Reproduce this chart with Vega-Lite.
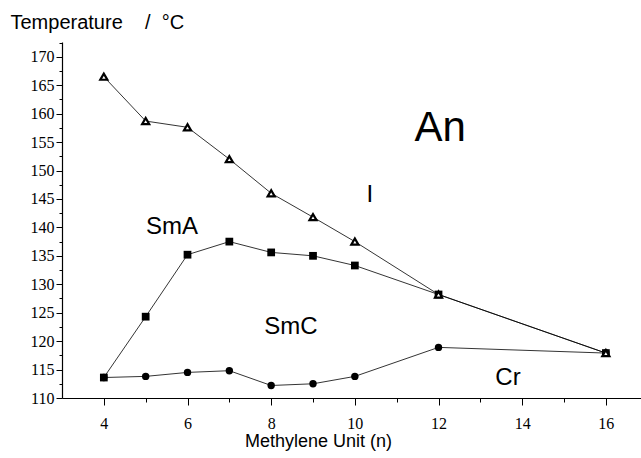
{
  "$schema": "https://vega.github.io/schema/vega-lite/v6.json",
  "width": 579,
  "height": 356,
  "autosize": "none",
  "padding": {"left": 62, "top": 42, "right": 0, "bottom": 60},
  "background": "white",
  "config": {"view": {"stroke": null}, "font": "Liberation Sans"},
  "datasets": {
    "pts": [
      {"n": 4, "T": 166.5, "s": "I"},
      {"n": 5, "T": 158.7, "s": "I"},
      {"n": 6, "T": 157.6, "s": "I"},
      {"n": 7, "T": 152.0, "s": "I"},
      {"n": 8, "T": 146.0, "s": "I"},
      {"n": 9, "T": 141.8, "s": "I"},
      {"n": 10, "T": 137.5, "s": "I"},
      {"n": 12, "T": 128.2, "s": "I"},
      {"n": 16, "T": 117.9, "s": "I"},
      {"n": 4, "T": 113.6, "s": "SmA"},
      {"n": 5, "T": 124.3, "s": "SmA"},
      {"n": 6, "T": 135.2, "s": "SmA"},
      {"n": 7, "T": 137.5, "s": "SmA"},
      {"n": 8, "T": 135.6, "s": "SmA"},
      {"n": 9, "T": 135.0, "s": "SmA"},
      {"n": 10, "T": 133.3, "s": "SmA"},
      {"n": 12, "T": 128.2, "s": "SmA"},
      {"n": 16, "T": 117.9, "s": "SmA"},
      {"n": 4, "T": 113.6, "s": "Cr"},
      {"n": 5, "T": 113.8, "s": "Cr"},
      {"n": 6, "T": 114.5, "s": "Cr"},
      {"n": 7, "T": 114.8, "s": "Cr"},
      {"n": 8, "T": 112.2, "s": "Cr"},
      {"n": 9, "T": 112.5, "s": "Cr"},
      {"n": 10, "T": 113.8, "s": "Cr"},
      {"n": 12, "T": 118.9, "s": "Cr"},
      {"n": 16, "T": 117.9, "s": "Cr"}
    ],
    "labels": [
      {"n": 12.04, "T": 157.5, "label": "An"},
      {"n": 10.36, "T": 145.7, "label": "I"},
      {"n": 5.63, "T": 140.1, "label": "SmA"},
      {"n": 8.47, "T": 122.5, "label": "SmC"},
      {"n": 13.66, "T": 113.5, "label": "Cr"}
    ]
  },
  "resolve": {"axis": {"x": "independent", "y": "independent"}},
  "layer": [
    {
      "data": {"name": "pts"},
      "mark": {"type": "line", "color": "black", "strokeWidth": 0.8},
      "encoding": {
        "x": {
          "field": "n", "type": "quantitative",
          "scale": {"domain": [3, 16.84], "nice": false, "zero": false},
          "axis": {
            "orient": "bottom",
            "values": [4, 6, 8, 10, 12, 14, 16],
            "grid": false,
            "domainColor": "black", "domainWidth": 1.2,
            "tickColor": "black", "tickSize": 7,
            "labelColor": "black", "labelFont": "Liberation Sans Narrow", "labelFontSize": 16,
            "labelPadding": 10,
            "title": "Methylene Unit (n)",
            "titleFont": "Liberation Sans", "titleFontSize": 18, "titleFontWeight": "normal",
            "titleColor": "black",
            "titleX": 256, "titleY": 48, "titleBaseline": "alphabetic"
          }
        },
        "y": {
          "field": "T", "type": "quantitative",
          "scale": {"domain": [110, 172.6], "nice": false, "zero": false},
          "axis": {
            "orient": "left",
            "values": [110, 115, 120, 125, 130, 135, 140, 145, 150, 155, 160, 165, 170],
            "grid": false,
            "domainColor": "black", "domainWidth": 1.2,
            "tickColor": "black", "tickSize": 6,
            "labelColor": "black", "labelFont": "Liberation Sans Narrow", "labelFontSize": 16,
            "labelPadding": 2,
            "title": "Temperature\u00a0\u00a0\u00a0\u00a0/\u00a0\u00a0°C",
            "titleFont": "Liberation Sans", "titleFontSize": 20, "titleFontWeight": "normal",
            "titleColor": "black",
            "titleAngle": 0, "titleAlign": "left", "titleBaseline": "alphabetic",
            "titleX": -52, "titleY": -14
          }
        },
        "detail": {"field": "s"}
      }
    },
    {
      "data": {"name": "pts"},
      "mark": {"type": "point", "opacity": 0},
      "encoding": {
        "x": {
          "field": "n", "type": "quantitative",
          "axis": {
            "orient": "bottom",
            "values": [5, 7, 9, 11, 13, 15],
            "grid": false, "domain": false, "labels": false, "title": null,
            "tickColor": "black", "tickSize": 4
          }
        },
        "y": {
          "field": "T", "type": "quantitative",
          "axis": {
            "orient": "left",
            "values": [112.5, 117.5, 122.5, 127.5, 132.5, 137.5, 142.5, 147.5, 152.5, 157.5, 162.5, 167.5, 172.5],
            "grid": false, "domain": false, "labels": false, "title": null,
            "tickColor": "black", "tickSize": 3
          }
        }
      }
    },
    {
      "data": {"name": "pts"},
      "transform": [{"filter": "datum.s === 'Cr'"}],
      "mark": {"type": "point", "shape": "circle", "filled": true, "color": "black", "size": 55, "opacity": 1},
      "encoding": {
        "x": {"field": "n", "type": "quantitative", "axis": null},
        "y": {"field": "T", "type": "quantitative", "axis": null}
      }
    },
    {
      "data": {"name": "pts"},
      "transform": [{"filter": "datum.s === 'SmA'"}],
      "mark": {"type": "point", "shape": "square", "filled": true, "color": "black", "size": 60, "opacity": 1},
      "encoding": {
        "x": {"field": "n", "type": "quantitative", "axis": null},
        "y": {"field": "T", "type": "quantitative", "axis": null}
      }
    },
    {
      "data": {"name": "pts"},
      "transform": [{"filter": "datum.s === 'I'"}],
      "mark": {"type": "point", "shape": "triangle-up", "filled": false, "fill": "white", "stroke": "black", "strokeWidth": 2.2, "size": 50, "opacity": 1},
      "encoding": {
        "x": {"field": "n", "type": "quantitative", "axis": null},
        "y": {"field": "T", "type": "quantitative", "axis": null}
      }
    },
    {
      "data": {"name": "labels"},
      "transform": [{"filter": "datum.label === 'An'"}],
      "mark": {"type": "text", "font": "Liberation Sans", "fontSize": 42, "color": "black", "align": "center", "baseline": "middle"},
      "encoding": {
        "x": {"field": "n", "type": "quantitative", "axis": null},
        "y": {"field": "T", "type": "quantitative", "axis": null},
        "text": {"field": "label"}
      }
    },
    {
      "data": {"name": "labels"},
      "transform": [{"filter": "datum.label !== 'An'"}],
      "mark": {"type": "text", "font": "Liberation Sans", "fontSize": 24, "color": "black", "align": "center", "baseline": "middle"},
      "encoding": {
        "x": {"field": "n", "type": "quantitative", "axis": null},
        "y": {"field": "T", "type": "quantitative", "axis": null},
        "text": {"field": "label"}
      }
    }
  ]
}
